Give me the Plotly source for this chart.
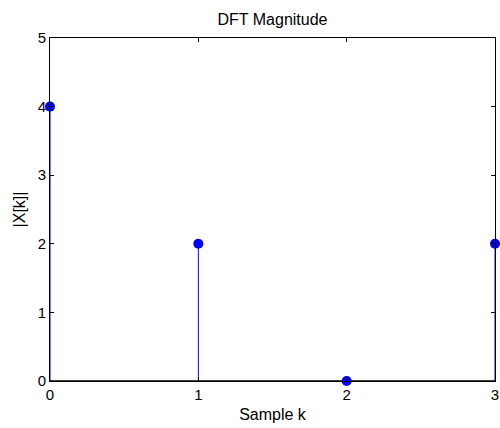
import plotly.graph_objects as go

k = [0, 1, 2, 3]
mag = [4, 2, 0, 2]
x_ticks = [0, 1, 2, 3]
y_ticks = [0, 1, 2, 3, 4, 5]

BLUE = "rgb(0,0,255)"
FONT = "Liberation Sans, Arial, Helvetica, sans-serif"

stem_x, stem_y = [], []
for xi, yi in zip(k, mag):
    stem_x += [xi, xi, None]
    stem_y += [0, yi, None]

fig = go.Figure()
fig.add_trace(go.Scatter(x=stem_x, y=stem_y, mode="lines",
                         line=dict(color=BLUE, width=1), cliponaxis=False,
                         hoverinfo="skip", showlegend=False))
fig.add_trace(go.Scatter(x=[k[0], k[-1]], y=[0, 0], mode="lines",
                         line=dict(color="black", width=1.5), cliponaxis=False,
                         hoverinfo="skip", showlegend=False))
fig.add_trace(go.Scatter(x=k, y=mag, mode="markers",
                         marker=dict(color=BLUE, size=10, line=dict(width=0)),
                         cliponaxis=False, showlegend=False))

axis_common = dict(showgrid=False, zeroline=False, showline=True, linecolor="black",
                   linewidth=1, mirror="ticks", ticks="inside", ticklen=4,
                   tickcolor="black", tickwidth=1, automargin=False,
                   tickfont=dict(family=FONT, size=15, color="black"))

fig.update_layout(
    width=500, height=428,
    margin=dict(l=50, r=5, t=38, b=47),
    paper_bgcolor="white", plot_bgcolor="white",
    title=dict(text="DFT Magnitude", x=0.545, xanchor="center", y=0.955, yanchor="middle",
               font=dict(family=FONT, size=16, color="black")),
    xaxis=dict(range=[0, 3], tickvals=x_ticks, title=dict(text="Sample k", standoff=6,
               font=dict(family=FONT, size=16, color="black")), **axis_common),
    yaxis=dict(range=[0, 5], tickvals=y_ticks, title=dict(text="|X[k]|", standoff=8,
               font=dict(family=FONT, size=16, color="black")), **axis_common),
)

fig.write_html("out.html")
